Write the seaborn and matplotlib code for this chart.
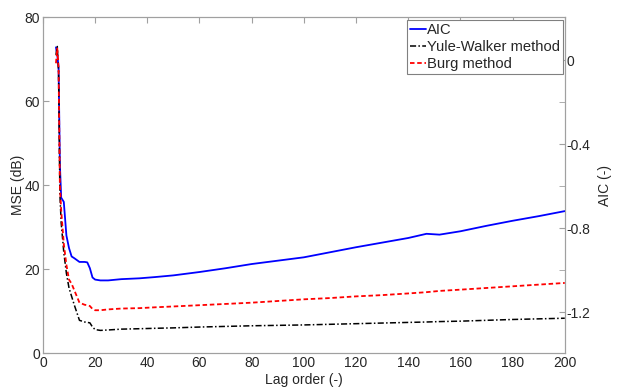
import numpy as np
import pandas as pd
import seaborn as sns
import matplotlib.pyplot as plt
from matplotlib.ticker import FixedLocator

lags = [5, 5.5, 6, 6.5, 7, 8, 9, 10, 11, 12, 14, 16, 17, 18, 19, 20, 22, 25, 30, 37,
        43, 50, 60, 70, 80, 90, 100, 110, 120, 130, 140, 147, 152, 160, 170, 180, 190, 200]

aic = [72.8, 71, 68, 45, 37, 36, 28, 25, 23, 22.6, 21.7, 21.7, 21.6, 20.2, 18, 17.5, 17.3, 17.3, 17.6, 17.8,
       18.1, 18.5, 19.3, 20.2, 21.2, 22, 22.8, 24, 25.2, 26.3, 27.4, 28.4, 28.2, 29, 30.3, 31.5, 32.6, 33.8]
yule_walker = [71, 73, 67, 38, 31, 24, 19, 15.5, 13.5, 11.5, 7.8, 7.4, 7.3, 7.2, 6.2, 5.6, 5.4, 5.5, 5.7, 5.8,
               5.9, 6.0, 6.2, 6.35, 6.5, 6.6, 6.7, 6.85, 7.0, 7.15, 7.3, 7.4, 7.5, 7.6, 7.8, 8.0, 8.15, 8.3]
burg = [69, 72.5, 68, 40, 34, 26, 21, 17.5, 16.5, 15, 12, 11.5, 11.4, 11.2, 10.5, 10.2, 10.2, 10.4, 10.6, 10.7,
        10.9, 11.1, 11.4, 11.7, 12, 12.4, 12.8, 13.1, 13.5, 13.8, 14.2, 14.5, 14.8, 15.1, 15.5, 15.9, 16.3, 16.7]

mse_ticks = [0, 20, 40, 60, 80]
aic_ticks = [-1.2, -0.8, -0.4, 0]
aic_minor = [-1.0, -0.6, -0.2]

df = pd.DataFrame({'lag': lags, 'AIC': aic, 'Yule-Walker method': yule_walker, 'Burg method': burg})

sns.set_style('white')
plt.rcParams['font.family'] = ['Liberation Sans', 'DejaVu Sans']
plt.rcParams['font.size'] = 10

spine_col = '#a0a0a0'

fig, ax = plt.subplots(figsize=(6.22, 3.88), dpi=100)
fig.subplots_adjust(left=0.069, right=0.908, top=0.956, bottom=0.090)

sns.lineplot(x='lag', y='AIC', data=df, ax=ax, color='#0000ff', lw=1.3, label='AIC')
sns.lineplot(x='lag', y='Yule-Walker method', data=df, ax=ax, color='black', lw=1.1,
             linestyle=(0, (4, 1.5, 1, 1.5)), label='Yule-Walker method')
sns.lineplot(x='lag', y='Burg method', data=df, ax=ax, color='#ff0000', lw=1.3,
             linestyle=(0, (2.5, 1.5)), label='Burg method')

ax.set_xlim(0, 200)
ax.set_ylim(0, 80)
ax.set_xticks(range(0, 201, 20))
ax.set_yticks(mse_ticks)
ax.set_xlabel('Lag order (-)', labelpad=2)
ax.set_ylabel('MSE (dB)', labelpad=0)
ax.tick_params(direction='in', length=4, color=spine_col, top=True, pad=2)
for s in ax.spines.values():
    s.set_color(spine_col)

ax2 = ax.twinx()
ax2.set_ylim(-1.395, 0.205)
ax2.set_yticks(aic_ticks)
ax2.set_yticklabels(['-1.2', '-0.8', '-0.4', '0'])
ax2.yaxis.set_minor_locator(FixedLocator(aic_minor))
ax2.tick_params(axis='y', which='both', direction='in', length=4, color=spine_col, pad=1)
ax2.set_ylabel('AIC (-)', labelpad=6)
for s in ax2.spines.values():
    s.set_color(spine_col)

leg = ax.legend(loc='upper right', bbox_to_anchor=(0.997, 0.99), handlelength=1.1, handletextpad=0.1,
                borderpad=0.2, labelspacing=0.2, borderaxespad=0.0, fancybox=False, framealpha=1,
                fontsize=10.6)
leg.get_frame().set_edgecolor('#808080')
leg.get_frame().set_linewidth(0.8)
leg.set_zorder(10)
ax.set_zorder(ax2.get_zorder() + 1)
ax.patch.set_visible(False)

plt.savefig('out.png', dpi=100)
